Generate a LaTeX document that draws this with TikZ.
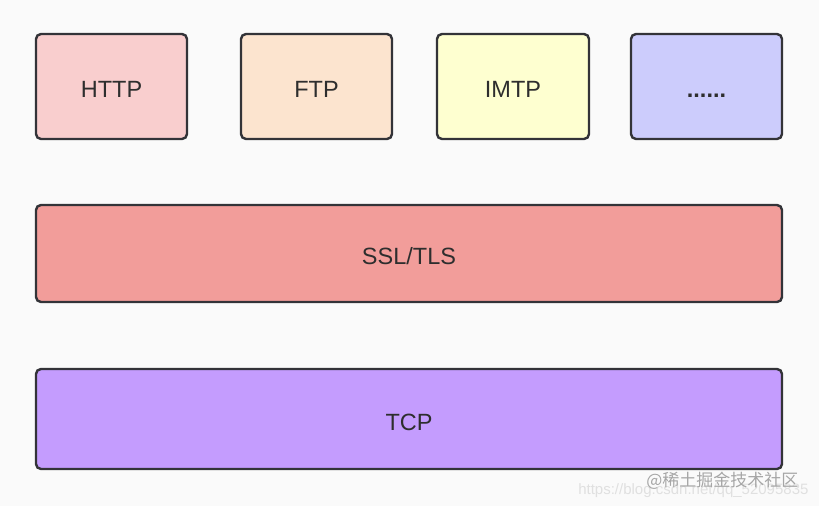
\documentclass[tikz,border=0pt]{standalone}
\usepackage{fontspec}
\setmainfont{Liberation Sans}
\newfontfamily\cjk{Noto Sans CJK SC}
\begin{document}
\begin{tikzpicture}[x=1pt,y=-1pt,
  layer/.style={draw=boxline,line width=2.4pt,rounded corners=5pt,text=txt,font=\fontsize{23.5}{26}\selectfont,text height=22pt,text depth=0pt},
]
\definecolor{bg}{HTML}{FAFAFA}
\definecolor{boxline}{HTML}{333338}
\definecolor{txt}{HTML}{2E2E2E}
\definecolor{chttp}{HTML}{F9CECE}
\definecolor{cftp}{HTML}{FCE4CF}
\definecolor{cimtp}{HTML}{FEFFD0}
\definecolor{cdots}{HTML}{CCCCFC}
\definecolor{cssl}{HTML}{F29D9A}
\definecolor{ctcp}{HTML}{C49CFE}
\fill[bg] (0,0) rectangle (819,506);
\useasboundingbox (0,0) rectangle (819,506);
\node[layer,fill=chttp,minimum width=151pt,minimum height=105pt] (http) at (111.5,86.5) {HTTP};
\node[layer,fill=cftp,minimum width=151pt,minimum height=105pt] (ftp) at (316.5,86.5) {FTP};
\node[layer,fill=cimtp,minimum width=152pt,minimum height=105pt] (imtp) at (513,86.5) {IMTP};
\node[layer,fill=cdots,minimum width=151pt,minimum height=105pt] (dots) at (706.5,86.5) {\textbf{......}};
\node[layer,fill=cssl,minimum width=746pt,minimum height=97pt] (ssl) at (409,253.5) {SSL/TLS};
\node[layer,fill=ctcp,minimum width=746pt,minimum height=100pt] (tcp) at (409,419) {TCP};
\node[text=black!12,font=\fontsize{15}{16}\selectfont,anchor=east] (url) at (812,491) {https://blog.csdn.net/qq\_52095835};
\node[text=black!35,font=\cjk\fontsize{17}{18}\selectfont,anchor=east] (wm) at (802,481) {@稀土掘金技术社区};
\end{tikzpicture}
\end{document}
